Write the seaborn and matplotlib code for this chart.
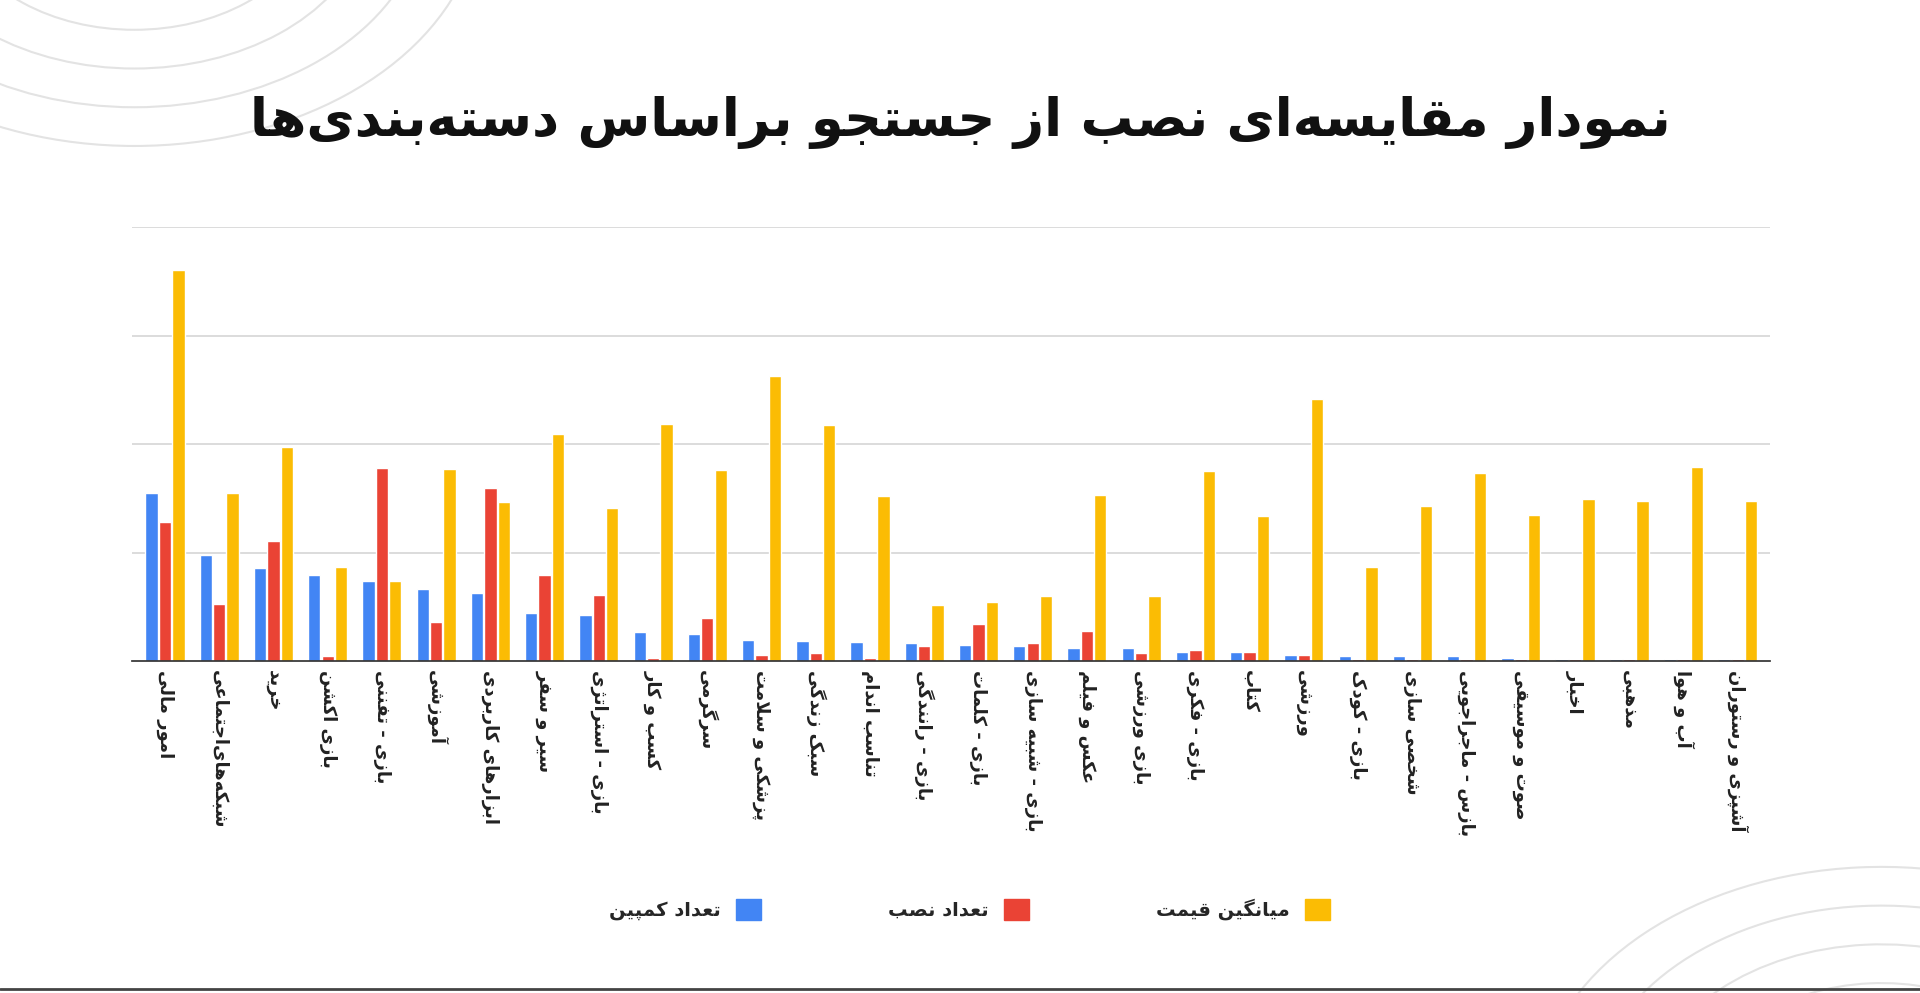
import matplotlib
matplotlib.use("Agg")
import matplotlib.pyplot as plt
from matplotlib.patches import Arc
import pandas as pd
import seaborn as sns

# ---- data (one grid step = 1 unit) ----
categories = [
    "امور مالی", "شبکه‌های‌اجتماعی", "خرید", "بازی اکشن", "بازی - تفننی", "آموزشی",
    "ابزارهای کاربردی", "سیر و سفر", "بازی - استراتژی", "کسب و کار", "سرگرمی",
    "پزشکی و سلامت", "سبک زندگی", "تناسب اندام", "بازی - رانندگی", "بازی - کلمات",
    "بازی - شبیه سازی", "عکس و فیلم", "بازی ورزشی", "بازی - فکری", "کتاب", "ورزشی",
    "بازی - کودک", "شخصی سازی", "بازس - ماجراجویی", "صوت و موسیقی", "اخبار",
    "مذهبی", "آب و هوا", "آشپزی و رستوران",
]
campaigns = [1.55, 0.98, 0.86, 0.80, 0.74, 0.67, 0.63, 0.45, 0.43, 0.27, 0.25,
             0.20, 0.19, 0.18, 0.17, 0.15, 0.14, 0.12, 0.12, 0.09, 0.09, 0.06,
             0.05, 0.05, 0.05, 0.03, 0.02, 0.02, 0.02, 0.02]
installs = [1.28, 0.53, 1.11, 0.05, 1.78, 0.36, 1.60, 0.80, 0.61, 0.03, 0.40,
            0.06, 0.08, 0.03, 0.14, 0.34, 0.17, 0.28, 0.08, 0.10, 0.09, 0.06,
            0.02, 0.02, 0.02, 0.02, 0.02, 0.02, 0.02, 0.02]
avg_price = [3.61, 1.55, 1.98, 0.87, 0.74, 1.77, 1.47, 2.10, 1.41, 2.19, 1.76,
             2.63, 2.18, 1.52, 0.52, 0.55, 0.60, 1.53, 0.60, 1.75, 1.34, 2.42,
             0.87, 1.43, 1.74, 1.35, 1.50, 1.48, 1.79, 1.48]
series_names = ["تعداد کمپین", "تعداد نصب", "میانگین قیمت"]
title = "نمودار مقایسه‌ای نصب از جستجو براساس دسته‌بندی‌ها"

# ---- minimal Persian shaping (matplotlib does no shaping / bidi) ----
FORMS = {  # iso, fin, ini, med
    "ا": (0xFE8D, 0xFE8E), "آ": (0xFE81, 0xFE82), "د": (0xFEA9, 0xFEAA),
    "ذ": (0xFEAB, 0xFEAC), "ر": (0xFEAD, 0xFEAE), "ز": (0xFEAF, 0xFEB0),
    "ژ": (0xFB8A, 0xFB8B), "و": (0xFEED, 0xFEEE),
    "ب": (0xFE8F, 0xFE90, 0xFE91, 0xFE92), "ت": (0xFE95, 0xFE96, 0xFE97, 0xFE98),
    "ث": (0xFE99, 0xFE9A, 0xFE9B, 0xFE9C), "ج": (0xFE9D, 0xFE9E, 0xFE9F, 0xFEA0),
    "ح": (0xFEA1, 0xFEA2, 0xFEA3, 0xFEA4), "خ": (0xFEA5, 0xFEA6, 0xFEA7, 0xFEA8),
    "س": (0xFEB1, 0xFEB2, 0xFEB3, 0xFEB4), "ش": (0xFEB5, 0xFEB6, 0xFEB7, 0xFEB8),
    "ص": (0xFEB9, 0xFEBA, 0xFEBB, 0xFEBC), "ض": (0xFEBD, 0xFEBE, 0xFEBF, 0xFEC0),
    "ط": (0xFEC1, 0xFEC2, 0xFEC3, 0xFEC4), "ظ": (0xFEC5, 0xFEC6, 0xFEC7, 0xFEC8),
    "ع": (0xFEC9, 0xFECA, 0xFECB, 0xFECC), "غ": (0xFECD, 0xFECE, 0xFECF, 0xFED0),
    "ف": (0xFED1, 0xFED2, 0xFED3, 0xFED4), "ق": (0xFED5, 0xFED6, 0xFED7, 0xFED8),
    "ل": (0xFEDD, 0xFEDE, 0xFEDF, 0xFEE0), "م": (0xFEE1, 0xFEE2, 0xFEE3, 0xFEE4),
    "ن": (0xFEE5, 0xFEE6, 0xFEE7, 0xFEE8), "ه": (0xFEE9, 0xFEEA, 0xFEEB, 0xFEEC),
    "ی": (0xFBFC, 0xFBFD, 0xFBFE, 0xFBFF), "ک": (0xFB8E, 0xFB8F, 0xFB90, 0xFB91),
    "گ": (0xFB92, 0xFB93, 0xFB94, 0xFB95), "پ": (0xFB56, 0xFB57, 0xFB58, 0xFB59),
    "چ": (0xFB7A, 0xFB7B, 0xFB7C, 0xFB7D),
}


def fa(text):
    chars = list(text)
    out = []
    i = 0
    while i < len(chars):
        c = chars[i]
        if c not in FORMS:
            if c != "\u200c":
                out.append(c)
            i += 1
            continue
        prev = chars[i - 1] if i > 0 else None
        join_prev = prev in FORMS and len(FORMS[prev]) == 4
        if c == "ل" and i + 1 < len(chars) and chars[i + 1] == "ا":
            out.append(chr(0xFEFC if join_prev else 0xFEFB))
            i += 2
            continue
        nxt = chars[i + 1] if i + 1 < len(chars) else None
        join_next = len(FORMS[c]) == 4 and nxt in FORMS
        f = FORMS[c]
        if join_prev and join_next:
            out.append(chr(f[3]))
        elif join_prev:
            out.append(chr(f[1]))
        elif join_next:
            out.append(chr(f[2]))
        else:
            out.append(chr(f[0]))
        i += 1
    return "".join(reversed(out))


df = pd.DataFrame({"cat": categories, series_names[0]: campaigns,
                   series_names[1]: installs, series_names[2]: avg_price})
long = df.melt(id_vars="cat", var_name="series", value_name="value")
long["series"] = long["series"].map(fa)
long["cat"] = long["cat"].map(fa)

sns.set_theme(style="white")
plt.rcParams["font.family"] = "DejaVu Sans"
fig = plt.figure(figsize=(19.2, 9.93), dpi=100)
ax = fig.add_axes([0.069, 0.334, 0.853, 0.437])
palette = ["#4285F4", "#EA4335", "#FBBC04"]
sns.barplot(data=long, x="cat", y="value", hue="series", palette=palette,
            width=0.74, gap=0.08, ax=ax, saturation=1)
ax.set_ylim(0, 4)
ax.set_yticks([1, 2, 3, 4])
ax.set_yticklabels([])
ax.yaxis.grid(True, color="#d5d5d5", linewidth=1.2)
ax.set_axisbelow(True)
for s in ["top", "right", "left"]:
    ax.spines[s].set_visible(False)
ax.spines["bottom"].set_color("#333333")
ax.set_xlim(-0.6, len(categories) - 0.4)
ax.set_xlabel("")
ax.set_ylabel("")
ax.tick_params(axis="x", length=0, pad=6)
plt.setp(ax.get_xticklabels(), rotation=270, ha="center", va="top",
         fontsize=13, color="#222222", fontweight="bold")

ax.get_legend().remove()
handles = [plt.Rectangle((0, 0), 1, 1, color=c) for c in palette]
fig.legend(handles, [fa(s) for s in series_names], loc="center",
           bbox_to_anchor=(0.505, 0.084), ncol=3, frameon=False, markerfirst=False,
           columnspacing=6.5, handlelength=1.3, handleheight=1.3,
           prop={"weight": "bold", "size": 14})

fig.text(0.5, 0.877, fa(title), ha="center", va="center", fontsize=38,
         fontweight="bold", color="#111111")

# decorative corner arcs and bottom rule
for r in (0.10, 0.13, 0.16, 0.19):
    fig.add_artist(Arc((0.07, 1.10), r * 1.9, r * 2.6, theta1=200, theta2=340,
                       transform=fig.transFigure, color="#e3e3e3", lw=1.5))
    fig.add_artist(Arc((0.98, -0.12), r * 1.9, r * 2.6, theta1=20, theta2=170,
                       transform=fig.transFigure, color="#e3e3e3", lw=1.5))
fig.add_artist(plt.Line2D([0, 1], [0.004, 0.004], transform=fig.transFigure,
                          color="#444444", lw=2))

fig.savefig("out.png", dpi=100)
